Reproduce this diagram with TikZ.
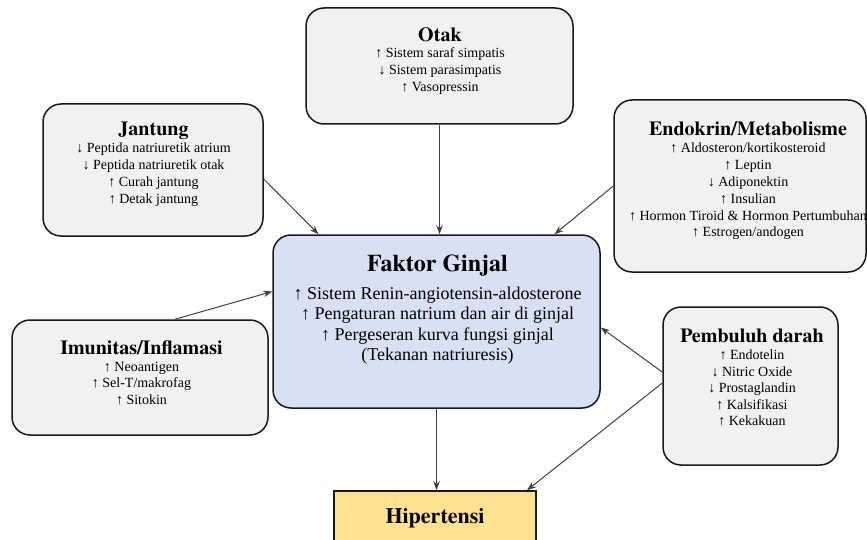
\documentclass[tikz,border=0pt]{standalone}
\usepackage{fontspec}
\setmainfont{Liberation Serif}
\newfontfamily\headfont{texgyretermes-bold.otf}
\usetikzlibrary{arrows.meta}
\definecolor{boxgray}{HTML}{F1F1F1}
\definecolor{kidney}{HTML}{D7E1F3}
\definecolor{hyper}{HTML}{FFE291}
\definecolor{linkgray}{HTML}{404040}
\begin{document}
\begin{tikzpicture}[x=1pt,y=-1pt,
  factorbox/.style={draw=black!90, line width=1.5pt, rounded corners=18pt,
    fill=boxgray, inner sep=0pt},
  title/.style={font=\headfont\fontsize{20}{24}\selectfont, inner sep=0pt},
  items/.style={font=\fontsize{14}{17}\selectfont, align=center, inner sep=0pt, anchor=north},
  link/.style={draw=linkgray, line width=1pt, -{Stealth[length=9pt,width=6.5pt]}}]
\useasboundingbox (0,0) rectangle (867,540);
\clip (0,0) rectangle (867,540);

% outer factor boxes
\node[factorbox, minimum width=267pt, minimum height=116pt] (otak) at (439.5,66) {};
\node[factorbox, minimum width=220pt, minimum height=132pt] (jantung) at (153,170) {};
\node[factorbox, minimum width=252pt, minimum height=172pt] (endo) at (740,186) {};
\node[factorbox, minimum width=256pt, minimum height=115pt] (imun) at (140,377.5) {};
\node[factorbox, minimum width=175pt, minimum height=158pt] (pemb) at (750.5,386) {};

% central kidney box
\node[factorbox, fill=kidney, minimum width=327pt, minimum height=173pt] (ginjal) at (436.5,321.5) {};

% outcome box
\node[draw=black!90, line width=1.5pt, fill=hyper, minimum width=202pt, minimum height=60pt,
  inner sep=0pt] (hip) at (435,521) {};
\node[title, font=\headfont\fontsize{22}{26}\selectfont] (hiptxt) at (435,518) {Hipertensi};

% texts
\node[title] (otakt) at (440,35) {Otak};
\node[items] (otaki) at (440,47) {↑ Sistem saraf simpatis\\ ↓ Sistem parasimpatis\\ ↑ Vasopressin};

\node[title] (jantungt) at (153.5,131) {Jantung};
\node[items] (jantungi) at (153.5,143) {↓ Peptida natriuretik atrium\\ ↓ Peptida natriuretik otak\\ ↑ Curah jantung\\ ↑ Detak jantung};

\node[title] (endot) at (748,129) {Endokrin/Metabolisme};
\node[items, font=\fontsize{14}{16.8}\selectfont] (endoi) at (748,143) {↑ Aldosteron/kortikosteroid\\ ↑ Leptin\\ ↓ Adiponektin\\ ↑ Insulian\\ ↑ Hormon Tiroid \& Hormon Pertumbuhan\\ ↑ Estrogen/andogen};

\node[title, font=\headfont\fontsize{24}{28}\selectfont] (ginjalt) at (437.5,266) {Faktor Ginjal};
\node[items, font=\fontsize{18}{20.5}\selectfont] (ginjali) at (437.5,286.5) {↑ Sistem Renin-angiotensin-aldosterone\\ ↑ Pengaturan natrium dan air di ginjal\\ ↑ Pergeseran kurva fungsi ginjal\\ (Tekanan natriuresis)};

\node[title] (imunt) at (141.5,348) {Imunitas/Inflamasi};
\node[items, font=\fontsize{14}{16.5}\selectfont] (imuni) at (141.5,362) {↑ Neoantigen\\ ↑ Sel-T/makrofag\\ ↑ Sitokin};

\node[title] (pembt) at (752,336) {Pembuluh darah};
\node[items, font=\fontsize{14}{16.5}\selectfont] (pembi) at (752,350) {↑ Endotelin\\ ↓ Nitric Oxide\\ ↓ Prostaglandin\\ ↑ Kalsifikasi\\ ↑ Kekakuan};

% connectors
\draw[link] (otak.south) -- (otak.south |- ginjal.north);
\draw[link] ([yshift=-9pt]jantung.east) -- ([xshift=-118pt]ginjal.north);
\draw[link] (endo.west) -- ([xshift=118pt]ginjal.north);
\draw[link] ([xshift=35pt]imun.north) -- ([yshift=30pt]ginjal.west);
\draw[link] ([yshift=14pt]pemb.west) -- ([yshift=-6pt]ginjal.east);
\draw[link] ([yshift=3pt]pemb.west) -- ([xshift=92pt]hip.north);
\draw[link] (ginjal.south) -- (ginjal.south |- hip.north);
\end{tikzpicture}
\end{document}
